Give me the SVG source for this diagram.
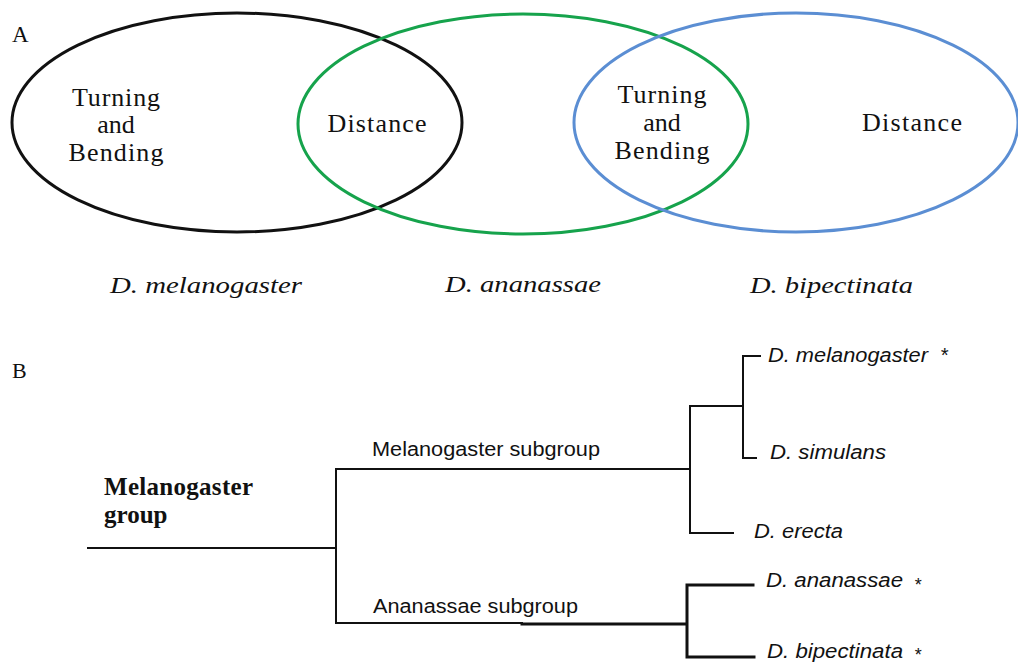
<svg xmlns="http://www.w3.org/2000/svg" width="1018" height="664" viewBox="0 0 1018 664">
<style>
.ser{font-family:"Liberation Serif","Times New Roman",serif;fill:#111}
.lab{font-size:26px;text-anchor:middle}
.it{font-family:"Liberation Serif","Times New Roman",serif;font-style:italic;font-size:24px;fill:#111}
.sans{font-family:"Liberation Sans",Arial,sans-serif;font-size:20px;fill:#111}
.sp{font-family:"Liberation Sans",Arial,sans-serif;font-style:italic;font-size:20px;fill:#111}
.ell{fill:none;stroke-width:3}
.br{fill:none;stroke:#111;stroke-width:2;stroke-linecap:square}
.brt{fill:none;stroke:#111;stroke-width:3;stroke-linecap:square}
</style>
<rect width="1018" height="664" fill="#fff"/>
<text class="ser" x="12" y="42" font-size="23">A</text>
<text class="ser" x="12" y="378" font-size="22">B</text>
<g id="melanogaster-set">
<ellipse class="ell" cx="237" cy="122.5" rx="225" ry="109.5" stroke="#111"/>
<text class="ser lab" x="116" y="106" textLength="88">Turning</text>
<text class="ser lab" x="116" y="133">and</text>
<text class="ser lab" x="116" y="161" textLength="95">Bending</text>
<text class="it" x="110" y="293" textLength="192" lengthAdjust="spacingAndGlyphs">D. melanogaster</text>
</g>
<g id="ananassae-set">
<ellipse class="ell" cx="523" cy="124" rx="225" ry="110" stroke="#16a34c"/>
<text class="ser lab" x="377" y="132" textLength="99">Distance</text>
<text class="it" x="445" y="292" textLength="156" lengthAdjust="spacingAndGlyphs">D. ananassae</text>
</g>
<g id="bipectinata-set">
<ellipse class="ell" cx="796" cy="122.5" rx="222" ry="109.5" stroke="#5b8ed3"/>
<text class="ser lab" x="662" y="103" textLength="89">Turning</text>
<text class="ser lab" x="662" y="131">and</text>
<text class="ser lab" x="662" y="159" textLength="95">Bending</text>
<text class="ser lab" x="912" y="131" textLength="100">Distance</text>
<text class="it" x="750" y="293" textLength="163" lengthAdjust="spacingAndGlyphs">D. bipectinata</text>
</g>
<g id="connectors">
<path class="br" d="M88,548 H336 M336,469 V623 M336,469 H690 M336,623 H522"/>
<path class="br" d="M690,406 V533 M690,406 H743 M743,356 V458 M743,356 H760 M743,458 H756 M690,533 H733"/>
<path class="brt" d="M522,624 H687 M687,585 V657 M687,585 H753 M687,657 H754"/>
</g>
<g id="root">
<text class="ser" x="104" y="495" font-size="25" font-weight="bold" textLength="149">Melanogaster</text>
<text class="ser" x="104" y="523" font-size="25" font-weight="bold">group</text>
</g>
<g id="melanogaster-subgroup">
<text class="sans" x="372" y="456" textLength="228" lengthAdjust="spacingAndGlyphs">Melanogaster subgroup</text>
</g>
<g id="ananassae-subgroup">
<text class="sans" x="373" y="613" textLength="205" lengthAdjust="spacingAndGlyphs">Ananassae subgroup</text>
</g>
<g id="sp-melanogaster">
<text class="sp" x="768" y="362"><tspan textLength="160" lengthAdjust="spacingAndGlyphs">D. melanogaster</tspan><tspan x="940">*</tspan></text>
</g>
<g id="sp-simulans">
<text class="sp" x="770" y="459" textLength="116" lengthAdjust="spacingAndGlyphs">D. simulans</text>
</g>
<g id="sp-erecta">
<text class="sp" x="754" y="538" textLength="89" lengthAdjust="spacingAndGlyphs">D. erecta</text>
</g>
<g id="sp-ananassae">
<text class="sp" x="766" y="587"><tspan textLength="137" lengthAdjust="spacingAndGlyphs">D. ananassae</tspan><tspan x="914" dy="4" font-size="18">*</tspan></text>
</g>
<g id="sp-bipectinata">
<text class="sp" x="767" y="658"><tspan textLength="136" lengthAdjust="spacingAndGlyphs">D. bipectinata</tspan><tspan x="914" dy="3" font-size="18">*</tspan></text>
</g>
</svg>
